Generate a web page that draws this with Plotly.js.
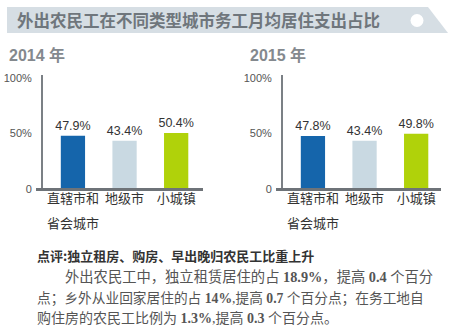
<!DOCTYPE html>
<html>
<head>
<meta charset="utf-8">
<script src="https://cdn.plot.ly/plotly-3.0.1.min.js"></script>
<style>html,body{margin:0;padding:0;background:#fff;}#chart{width:458px;height:327px;}</style>
</head>
<body>
<div id="chart"></div>
<script>
// ---- data ----
const categoryLines = [['直辖市和', '省会城市'], ['地级市'], ['小城镇']];
const categories = categoryLines.map(l => l.join(''));
const values2014 = [47.9, 43.4, 50.4];
const values2015 = [47.8, 43.4, 49.8];
const yTickVals = [0, 50, 100];
const yTickText = ['0', '50%', '100%'];
const barColors = ['#1565ab', '#c9d9e2', '#b0d20a'];
const mainTitle = '外出农民工在不同类型城市务工月均居住支出占比';
const panelTitles = ['2014 年', '2015 年'];
const commentTitle = '点评:独立租房、购房、早出晚归农民工比重上升';
const commentLines = [
  '外出农民工中，独立租赁居住的占 <b>18.9%</b>，提高 <b>0.4</b> 个百分',
  '点；乡外从业回家居住的占 <b>14%</b>,提高 <b>0.7</b> 个百分点；在务工地自',
  '购住房的农民工比例为 <b>1.3%</b>,提高 <b>0.3</b> 个百分点。'
];

// ---- layout helpers (pixel -> paper) ----
const W = 458, H = 327;
const px = x => x / W;
const py = y => 1 - y / H;

const sans = 'Liberation Sans, Arial, Noto Sans CJK SC, sans-serif';
const cjk = 'Noto Sans CJK SC, Liberation Sans, sans-serif';
const serif = 'Liberation Serif, Noto Sans CJK SC, serif';

function barTrace(vals, xa, ya) {
  return {
    type: 'bar', x: categories, y: vals, xaxis: xa, yaxis: ya,
    marker: {color: barColors}, width: 0.47,
    texttemplate: '%{y:.1f}%', textposition: 'outside', cliponaxis: false,
    constraintext: 'none',
    textfont: {family: sans, size: 12.5, color: '#333'},
    hoverinfo: 'none'
  };
}

const yDomain = [py(189), py(75)];
const yRange = [0, (189 - 75) / 1.11];
const xRange = [-0.58, 2.52];

function yAxis(anchor) {
  return {
    domain: yDomain, range: yRange, anchor: anchor,
    tickvals: yTickVals, ticktext: yTickText,
    ticks: 'outside', ticklen: 7, tickcolor: 'rgba(0,0,0,0)',
    tickfont: {family: sans, size: 11, color: '#555'},
    showgrid: false, zeroline: false,
    showline: true, linecolor: '#7b8085', linewidth: 2
  };
}
function xAxis(domain, anchor) {
  return {
    domain: domain, range: xRange, anchor: anchor, type: 'category',
    tickvals: categories, ticktext: categoryLines.map(l => l[0]),
    showgrid: false, zeroline: false, showline: false,
    ticks: '', ticklen: 0,
    tickfont: {family: cjk, size: 13, color: '#333'}
  };
}

const shapes = [
  {type: 'path', xref: 'paper', yref: 'paper',
   path: `M ${px(7)},${py(7)} L ${px(428)},${py(7)} L ${px(448)},${py(33)} L ${px(7)},${py(33)} Z`,
   fillcolor: '#d6dee4', line: {width: 0}, layer: 'below'},
  {type: 'circle', xref: 'paper', yref: 'paper',
   x0: px(410.5), x1: px(423.5), y0: py(14), y1: py(27),
   fillcolor: '#ffffff', line: {width: 0}},
  {type: 'line', xref: 'paper', yref: 'paper',
   x0: px(36), x1: px(203), y0: py(189.5), y1: py(189.5),
   line: {color: '#6e7378', width: 3}},
  {type: 'line', xref: 'paper', yref: 'paper',
   x0: px(276), x1: px(441), y0: py(189.5), y1: py(189.5),
   line: {color: '#6e7378', width: 3}}
];

const annotations = [
  {text: '<b>' + mainTitle + '</b>', xref: 'paper', yref: 'paper', x: px(15), y: py(20),
   xanchor: 'left', yanchor: 'middle', showarrow: false,
   font: {family: cjk, size: 16.5, color: '#6f767c'}},
  {text: '<b>' + panelTitles[0] + '</b>', xref: 'paper', yref: 'paper', x: px(7), y: py(55),
   xanchor: 'left', yanchor: 'middle', showarrow: false,
   font: {family: sans, size: 16, color: '#84898e'}},
  {text: '<b>' + panelTitles[1] + '</b>', xref: 'paper', yref: 'paper', x: px(248), y: py(55),
   xanchor: 'left', yanchor: 'middle', showarrow: false,
   font: {family: sans, size: 16, color: '#84898e'}},
  {text: '<b>' + commentTitle + '</b>', xref: 'paper', yref: 'paper', x: px(35), y: py(255),
   xanchor: 'left', yanchor: 'middle', showarrow: false,
   font: {family: cjk, size: 13, color: '#333'}},
  {text: commentLines[0], xref: 'paper', yref: 'paper', x: px(63), y: py(277),
   xanchor: 'left', yanchor: 'middle', showarrow: false,
   font: {family: serif, size: 14.3, color: '#555'}},
  {text: commentLines[1], xref: 'paper', yref: 'paper', x: px(35), y: py(298),
   xanchor: 'left', yanchor: 'middle', showarrow: false,
   font: {family: serif, size: 13.7, color: '#555'}},
  {text: commentLines[2], xref: 'paper', yref: 'paper', x: px(35), y: py(318),
   xanchor: 'left', yanchor: 'middle', showarrow: false,
   font: {family: serif, size: 14, color: '#555'}}
];

// second lines of category labels, placed on the category axes
['x', 'x2'].forEach(xa => {
  categoryLines.forEach((lines, i) => {
    if (lines.length > 1) {
      annotations.push({text: lines[1], xref: xa, yref: 'paper', x: categories[i], y: py(223),
        xanchor: 'center', yanchor: 'middle', showarrow: false,
        font: {family: cjk, size: 13, color: '#333'}});
    }
  });
});

const layout = {
  width: W, height: H,
  margin: {l: 0, r: 0, t: 0, b: 0},
  paper_bgcolor: '#fff', plot_bgcolor: 'rgba(0,0,0,0)',
  showlegend: false, bargap: 0.5,
  xaxis: xAxis([px(43), px(203)], 'y'),
  yaxis: yAxis('x'),
  xaxis2: xAxis([px(283), px(443)], 'y2'),
  yaxis2: yAxis('x2'),
  shapes: shapes,
  annotations: annotations
};

Plotly.newPlot('chart', [barTrace(values2014, 'x', 'y'), barTrace(values2015, 'x2', 'y2')], layout,
  {displayModeBar: false, staticPlot: true});
</script>
</body>
</html>
